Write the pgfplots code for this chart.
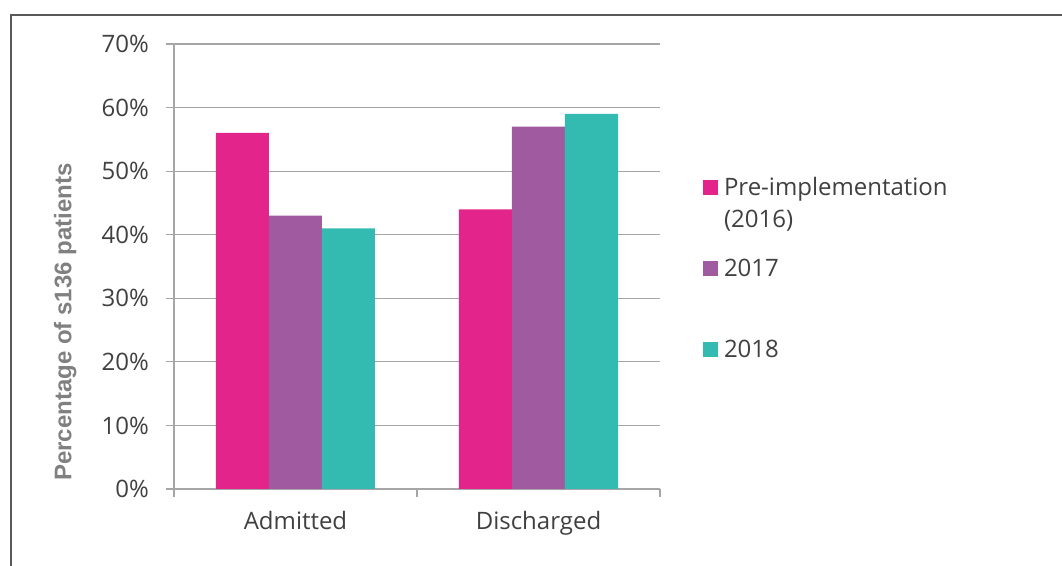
\documentclass[border=0pt]{standalone}
\usepackage{pgfplots}
\pgfplotsset{compat=1.18}
\usepackage{fontspec}
\setmainfont{Open Sans}
\newfontfamily\arialfont{Liberation Sans}
\definecolor{cpink}{HTML}{E3248A}
\definecolor{cpurple}{HTML}{A05BA0}
\definecolor{cteal}{HTML}{33BBB2}
\definecolor{ctext}{HTML}{404040}
\definecolor{cgrid}{HTML}{A6A6A6}
\definecolor{cframe}{HTML}{595959}
\begin{document}
\begin{tikzpicture}
\useasboundingbox (0,0) rectangle (531pt,283pt);
\draw[cframe, line width=1.25pt] (5.5pt,-10pt) -- (5.5pt,275.5pt) -- (545pt,275.5pt);
\begin{axis}[
  at={(87pt,38.5pt)}, anchor=south west,
  scale only axis, width=243pt, height=222.5pt,
  ybar=0pt, bar width=26.5pt,
  xmin=-0.5, xmax=1.5, ymin=0, ymax=70,
  axis x line*=bottom, axis y line*=left,
  axis line style={-, cgrid, line width=0.6pt},
  ytick={0,10,...,70},
  ymajorgrids, grid style={cgrid, line width=0.6pt},
  xtick={-0.5,0.5,1.5}, xticklabels={},
  extra x ticks={0,1}, extra x tick labels={Admitted,Discharged},
  extra x tick style={major tick length=0pt, grid=none},
  tick align=outside, major tick length=4pt,
  tick style={cgrid, line width=0.6pt},
  /pgf/number format/assume math mode=true,
  yticklabel={\pgfmathprintnumber{\tick}\%},
  ticklabel style={font=\fontsize{12}{14}\selectfont, text=ctext},
  xticklabel style={yshift=-7.5pt},
  yticklabel style={xshift=-5pt},
  every axis y label/.style={at={(axis description cs:-0.224,0.375)}, rotate=90, anchor=center},
  ylabel={\arialfont\bfseries\fontsize{12}{14}\selectfont Percentage of s136 patients},
  ylabel style={text=gray},
  legend image code/.code={\fill[#1] (0pt,7.25pt) rectangle (7.5pt,14.75pt);},
  legend cell align=left,
  legend style={at={(axis description cs:1.0885,0.6944)}, anchor=north west,
    draw=none, fill=none, inner sep=0pt, outer sep=0pt,
    column sep=3pt, row sep=10.5pt,
    font=\fontsize{12}{16}\selectfont, text=ctext,
    nodes={inner sep=0pt, text height=8pt, text depth=22pt}},
]
\addplot[fill=cpink, draw=none] coordinates {(0,56) (1,44)};
\addplot[fill=cpurple, draw=none] coordinates {(0,43) (1,57)};
\addplot[fill=cteal, draw=none] coordinates {(0,41) (1,59)};
\addlegendentry{\begin{tabular}[t]{@{}l@{}}Pre-implementation\\(2016)\end{tabular}}
\addlegendentry{2017}
\addlegendentry{2018}
\end{axis}
\end{tikzpicture}
\end{document}
